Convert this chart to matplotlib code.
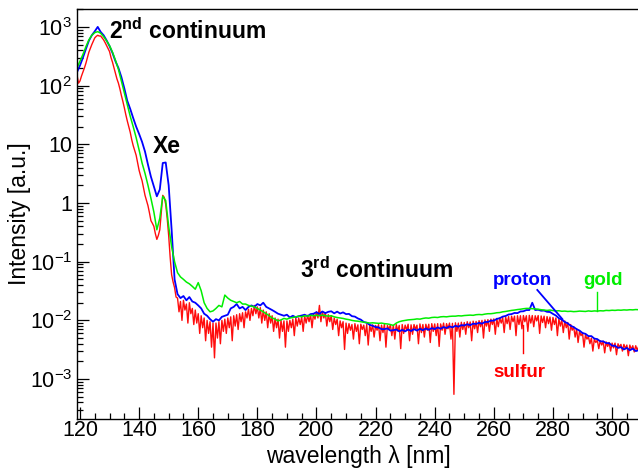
import numpy as np
import matplotlib
matplotlib.use("Agg")
import matplotlib.pyplot as plt
from matplotlib.ticker import FixedLocator, FixedFormatter, LogLocator, MultipleLocator, NullFormatter

plt.rcParams['font.family'] = ['Liberation Sans', 'DejaVu Sans']
plt.rcParams['mathtext.fontset'] = 'custom'
plt.rcParams['mathtext.rm'] = 'Liberation Sans'
plt.rcParams['mathtext.bf'] = 'Liberation Sans:bold'
plt.rcParams['mathtext.it'] = 'Liberation Sans:italic'

# ---------------- data ----------------
# integer-nm samples start at 119 nm; half-nm samples start at 119.5 nm
start_nm = 119

sulfur = [
    150, 120, 170, 240, 370, 500, 650, 720, 700, 600,
    480, 380, 250, 160, 110, 68, 42, 25, 16, 9.5,
    6.5, 3.6, 2.4, 1.35, 0.9, 0.5, 0.4, 0.24, 0.35, 1.35,
    0.95, 0.28, 0.06, 0.036, 0.024, 0.021, 0.022, 0.019, 0.02, 0.016,
    0.015, 0.013, 0.012, 0.011, 0.01, 0.0095, 0.009, 0.009, 0.0095, 0.01,
    0.0105, 0.011, 0.0115, 0.012, 0.0125, 0.013, 0.0135, 0.014, 0.0155, 0.016,
    0.018, 0.017, 0.0165, 0.015, 0.014, 0.013, 0.012, 0.011, 0.0105, 0.01,
    0.0098, 0.0098, 0.01, 0.0105, 0.011, 0.011, 0.0115, 0.012, 0.0122, 0.0125,
    0.013, 0.014, 0.018, 0.014, 0.0135, 0.0125, 0.012, 0.011, 0.0105, 0.0098,
    0.0095, 0.009, 0.0088, 0.0085, 0.0088, 0.0084, 0.0086, 0.0083, 0.0085, 0.0082,
    0.0084, 0.0082, 0.0085, 0.0083, 0.0086, 0.0082, 0.0084, 0.0083, 0.0085, 0.0082,
    0.0085, 0.0083, 0.0086, 0.0084, 0.0085, 0.0083, 0.0087, 0.0085, 0.0086, 0.0086,
    0.0088, 0.0087, 0.0088, 0.0087, 0.009, 0.0088, 0.009, 0.0089, 0.0091, 0.009,
    0.0093, 0.0092, 0.0095, 0.0094, 0.0097, 0.0096, 0.0099, 0.01, 0.0102, 0.0103,
    0.0105, 0.0106, 0.0108, 0.011, 0.0112, 0.0114, 0.0116, 0.0118, 0.0118, 0.012,
    0.012, 0.0121, 0.012, 0.0122, 0.0121, 0.012, 0.0121, 0.0119, 0.0118, 0.0116,
    0.0114, 0.0112, 0.011, 0.0106, 0.0102, 0.0098, 0.0092, 0.0085, 0.0078, 0.0072,
    0.0066, 0.0061, 0.0057, 0.0053, 0.005, 0.0048, 0.0046, 0.0045, 0.0044, 0.0043,
    0.0042, 0.0041, 0.0041, 0.004, 0.0039, 0.0039, 0.0038, 0.0038, 0.0037, 0.0037,
    0.0036,
]

sulfur_half = [
    110, 145, 200, 300, 430, 570, 690, 700, 650, 540,
    430, 300, 200, 130, 88, 54, 32, 20, 12, 7.8,
    4.8, 2.9, 1.8, 1.1, 0.68, 0.45, 0.3, 0.28, 0.7, 1.25,
    0.55, 0.12, 0.045, 0.025, 0.014, 0.01, 0.015, 0.009, 0.013, 0.0085,
    0.009, 0.006, 0.0075, 0.0045, 0.006, 0.0035, 0.0023, 0.005, 0.004, 0.0065,
    0.006, 0.0075, 0.0045, 0.008, 0.007, 0.0095, 0.0075, 0.011, 0.01, 0.012,
    0.013, 0.011, 0.009, 0.01, 0.0075, 0.009, 0.0065, 0.0075, 0.005, 0.0065,
    0.0035, 0.0065, 0.0075, 0.0055, 0.008, 0.0085, 0.0065, 0.009, 0.0095, 0.0075,
    0.0105, 0.011, 0.0095, 0.011, 0.008, 0.0095, 0.007, 0.0085, 0.0055, 0.0075,
    0.0032, 0.006, 0.0068, 0.0048, 0.0065, 0.004, 0.007, 0.0055, 0.0038, 0.0065,
    0.0052, 0.0068, 0.0045, 0.0062, 0.0035, 0.007, 0.0055, 0.0048, 0.0066, 0.0033,
    0.006, 0.0068, 0.0045, 0.0058, 0.007, 0.004, 0.0062, 0.0052, 0.0068, 0.0042,
    0.0065, 0.0055, 0.0036, 0.0068, 0.0058, 0.0072, 0.0048, 0.00055, 0.0065, 0.0052,
    0.007, 0.0058, 0.0075, 0.0045, 0.0072, 0.0062, 0.0078, 0.005, 0.008, 0.0065,
    0.0085, 0.0058, 0.0078, 0.009, 0.0062, 0.0088, 0.007, 0.0095, 0.0055, 0.0085,
    0.0072, 0.0095, 0.0065, 0.009, 0.0078, 0.0098, 0.006, 0.0092, 0.0075, 0.0088,
    0.0068, 0.0085, 0.0055, 0.008, 0.0062, 0.0075, 0.0048, 0.0068, 0.0052, 0.0042,
    0.0055, 0.0035, 0.0048, 0.004, 0.003, 0.0042, 0.0033, 0.0038, 0.0028, 0.0036,
    0.003, 0.0034, 0.0026, 0.0035, 0.003, 0.0033, 0.0025, 0.0032, 0.0029, 0.0031,
]

proton = [
    170, 220, 300, 420, 580, 720, 840, 1000, 820, 720,
    590, 470, 360, 260, 200, 140, 90, 55, 40, 28,
    20, 15, 11, 7.5, 4.5, 2.8, 1.9, 1.3, 1.7, 4.8,
    4.9, 2.0, 0.35, 0.05, 0.028, 0.024, 0.026, 0.022, 0.025, 0.021,
    0.02, 0.018, 0.016, 0.013, 0.012, 0.0105, 0.0095, 0.0105, 0.01, 0.0115,
    0.012, 0.0125, 0.016, 0.017, 0.019, 0.016, 0.017, 0.015, 0.017, 0.018,
    0.017, 0.019, 0.018, 0.02, 0.017, 0.016, 0.015, 0.014, 0.013, 0.0125,
    0.012, 0.0125, 0.0112, 0.012, 0.0113, 0.0118, 0.0121, 0.0125, 0.0118, 0.0128,
    0.013, 0.0138, 0.0129, 0.0142, 0.0133, 0.014, 0.0143, 0.0132, 0.0141, 0.0131,
    0.0137, 0.0128, 0.0129, 0.0118, 0.0116, 0.0108, 0.0103, 0.0094, 0.0091, 0.0084,
    0.0081, 0.0077, 0.0076, 0.0071, 0.0071, 0.0073, 0.0067, 0.0068, 0.007, 0.0065,
    0.0069, 0.0065, 0.007, 0.0066, 0.0071, 0.0067, 0.0072, 0.0068, 0.0073, 0.0069,
    0.0074, 0.0071, 0.0076, 0.0072, 0.0077, 0.0074, 0.0079, 0.0076, 0.0081, 0.0078,
    0.0083, 0.0082, 0.0086, 0.0083, 0.0088, 0.0087, 0.0091, 0.0088, 0.0094, 0.0094,
    0.0099, 0.0099, 0.0106, 0.0109, 0.0116, 0.0119, 0.0126, 0.0128, 0.0134, 0.0133,
    0.0142, 0.0143, 0.015, 0.015, 0.02, 0.015, 0.0152, 0.0146, 0.0147, 0.014,
    0.0139, 0.0129, 0.0121, 0.0109, 0.0103, 0.0094, 0.0089, 0.0081, 0.0077, 0.0071,
    0.0067, 0.0061, 0.0059, 0.0054, 0.0054, 0.0049, 0.0048, 0.0044, 0.0044, 0.0041,
    0.0041, 0.0037, 0.0037, 0.0034, 0.0035, 0.0032, 0.0034, 0.0031, 0.0033, 0.003,
    0.0031,
]

gold = [
    200, 260, 340, 460, 600, 720, 800, 830, 780, 680,
    580, 480, 370, 270, 190, 120, 75, 48, 30, 20,
    13, 8, 4.8, 3.2, 2.0, 1.2, 0.7, 0.35, 0.55, 1.3,
    1.1, 0.4, 0.18, 0.1, 0.065, 0.055, 0.05, 0.045, 0.042, 0.038,
    0.034, 0.044, 0.032, 0.02, 0.016, 0.014, 0.0145, 0.016, 0.018, 0.017,
    0.027, 0.024, 0.022, 0.021, 0.02, 0.021, 0.019, 0.019, 0.018, 0.0175,
    0.017, 0.016, 0.015, 0.014, 0.013, 0.012, 0.011, 0.0105, 0.0098, 0.0102,
    0.0108, 0.0105, 0.011, 0.0112, 0.0115, 0.0118, 0.0115, 0.012, 0.0118, 0.0122,
    0.012, 0.0122, 0.012, 0.0123, 0.012, 0.0118, 0.012, 0.0115, 0.0112, 0.011,
    0.0108, 0.0105, 0.0103, 0.01, 0.0098, 0.0097, 0.0095, 0.0093, 0.0092, 0.009,
    0.0091, 0.009, 0.0089, 0.009, 0.0088, 0.0087, 0.0085, 0.0082, 0.009, 0.0095,
    0.0098, 0.01, 0.0102, 0.0103, 0.0104, 0.0106, 0.0105, 0.0108, 0.011, 0.0109,
    0.0112, 0.0113, 0.0112, 0.0115, 0.0116, 0.0115, 0.0117, 0.0118, 0.0118, 0.012,
    0.0119, 0.0121, 0.0122, 0.0123, 0.0122, 0.0125, 0.0126, 0.0125, 0.0128, 0.013,
    0.013, 0.0132, 0.0135, 0.0136, 0.014, 0.0142, 0.0145, 0.0148, 0.015, 0.0153,
    0.0155, 0.0158, 0.016, 0.016, 0.0158, 0.0157, 0.0155, 0.0152, 0.015, 0.0148,
    0.015, 0.0147, 0.0145, 0.0146, 0.0143, 0.0144, 0.0142, 0.0143, 0.0141, 0.0142,
    0.0144, 0.0143, 0.0142, 0.0145, 0.0143, 0.0145, 0.0144, 0.0146, 0.0145, 0.0148,
    0.0147, 0.0149, 0.0148, 0.015, 0.0149, 0.0151, 0.015, 0.0152, 0.0151, 0.0153,
    0.0152,
]

# label pointer lines: (wavelengths, intensities)
proton_ptr = ([274.7, 283.2], [0.033, 0.0105])
gold_ptr = ([294.8, 294.8], [0.031, 0.0145])
sulfur_ptr = ([269.7, 269.7], [0.0085, 0.0028])

x_ticks = [120, 140, 160, 180, 200, 220, 240, 260, 280, 300]
y_ticks = [1e-3, 1e-2, 1e-1, 1, 10, 1e2, 1e3]
y_tick_labels = [r'$10^{-3}$', r'$10^{-2}$', r'$10^{-1}$', '1', '10', r'$10^{2}$', r'$10^{3}$']

RED = '#ff0000'
BLUE = '#0000ff'
GREEN = '#00ee00'

W, H = 638, 471
fig = plt.figure(figsize=(W / 100, H / 100), dpi=100)
ax = fig.add_axes([77 / W, (H - 419) / H, (W - 77) / W, (419 - 9) / H])

def lam(series, offset=0.0):
    return np.arange(len(series)) + start_nm + offset

# merge integer and half-nm sulfur samples into one spectrum
s_x = np.concatenate([lam(sulfur), lam(sulfur_half, 0.5)])
s_y = np.concatenate([sulfur, sulfur_half])
order = np.argsort(s_x)

ax.plot(s_x[order], s_y[order], color=RED, lw=1.0, alpha=0.95)
ax.plot(lam(proton), proton, color=BLUE, lw=1.3)
ax.plot(lam(gold), gold, color=GREEN, lw=1.1)

ax.plot(*sulfur_ptr, color=RED, lw=1.0)
ax.plot(*proton_ptr, color=BLUE, lw=1.3)
ax.plot(*gold_ptr, color=GREEN, lw=1.0)

ax.set_yscale('log')
ax.set_xlim(118.99, 308.77)
ax.set_ylim(2.09e-4, 2018)

ax.xaxis.set_major_locator(FixedLocator(x_ticks))
ax.xaxis.set_minor_locator(MultipleLocator(5))
ax.yaxis.set_major_locator(FixedLocator(y_ticks))
ax.yaxis.set_major_formatter(FixedFormatter(y_tick_labels))
ax.yaxis.set_minor_locator(LogLocator(base=10, subs=np.arange(2, 10), numticks=20))
ax.yaxis.set_minor_formatter(NullFormatter())

ax.tick_params(which='both', direction='in', top=False, right=False, labelsize=15.5)
ax.tick_params(which='major', length=8.5, width=0.9)
ax.tick_params(which='minor', length=4.5, width=0.9)
ax.tick_params(axis='x', pad=1.0)
ax.tick_params(axis='y', pad=3.5)
ax.spines['right'].set_visible(False)
for s in ['left', 'bottom', 'top']:
    ax.spines[s].set_linewidth(1.0)

def fx(x):
    return x / W

def fy(y):
    return 1 - y / H

fig.text(fx(358), fy(456), 'wavelength λ [nm]', ha='center', va='center', fontsize=16.5)
fig.text(fx(20), fy(214), 'Intensity [a.u.]', ha='center', va='center', rotation=90, fontsize=16.5)

bold = dict(fontsize=16.5, fontweight='bold')
small_bold = dict(fontsize=13.5, fontweight='bold')
fig.text(fx(109), fy(39), r'$\mathbf{2^{nd}}$ continuum', ha='left', va='baseline', **bold)
fig.text(fx(153), fy(153), 'Xe', ha='left', va='baseline', **bold)
fig.text(fx(300), fy(278), r'$\mathbf{3^{rd}}$ continuum', ha='left', va='baseline', **bold)
fig.text(fx(493), fy(285), 'proton', ha='left', va='baseline', color=BLUE, **small_bold)
fig.text(fx(583), fy(285), 'gold', ha='left', va='baseline', color=GREEN, **small_bold)
fig.text(fx(493), fy(377), 'sulfur', ha='left', va='baseline', color=RED, **small_bold)

fig.savefig('out.png', dpi=100)
